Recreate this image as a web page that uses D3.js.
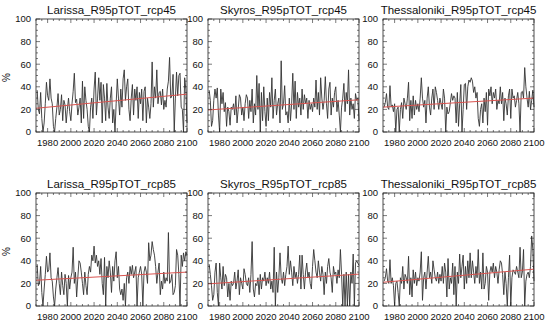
<!DOCTYPE html>
<html>
<head>
<meta charset="utf-8">
<script src="https://d3js.org/d3.v7.min.js"></script>
<style>
  body { margin: 0; background: #fff; }
  text { font-family: "Liberation Sans", Arial, Helvetica, sans-serif; fill: #111; }
</style>
</head>
<body>
<div id="chart"></div>
<script>
// yearly values, 1971-2100
var years = d3.range(1971, 2101);

var titles = ["Larissa_R95pTOT_rcp45", "Skyros_R95pTOT_rcp45", "Thessaloniki_R95pTOT_rcp45",
              "Larissa_R95pTOT_rcp85", "Skyros_R95pTOT_rcp85", "Thessaloniki_R95pTOT_rcp85"];

var larissa45 = [37,20,16,35,12,0,8,25,44,32, 28,47,30,25,5,0,12,22,34,15,
  20,33,10,28,24,8,20,30,18,10, 25,36,52,26,29,15,22,30,8,45,
  12,40,28,20,5,0,22,30,12,38, 53,15,30,48,28,44,8,42,30,10,
  43,22,12,30,40,8,20,0,25,47, 30,15,38,22,47,55,28,40,47,20,
  10,30,42,15,38,28,40,12,35,25, 38,10,36,40,8,30,22,12,25,62,
  22,40,30,55,25,35,36,24,38,20, 28,22,38,45,66,30,32,51,0,30,
  53,32,50,52,22,20,0,48,38,8];

var skyros45 = [37,28,5,10,28,38,30,39,15,0, 38,25,35,18,26,5,22,18,6,22,
  20,25,15,32,8,20,33,30,15,22, 10,25,33,30,12,28,18,38,8,25,
  15,50,20,43,0,35,10,40,18,5, 30,10,35,22,48,12,28,38,15,25,
  30,8,63,20,25,41,15,18,8,30, 10,25,52,20,45,12,35,22,30,15,
  38,20,33,25,30,12,28,20,25,18, 30,22,46,20,35,15,48,30,20,28,
  49,25,12,38,44,15,30,22,35,40, 18,28,15,0,22,30,43,18,35,25,
  55,15,30,20,25,12,34,28,30,10];

var thess45 = [22,26,34,22,20,41,22,24,18,25, 0,20,22,0,20,26,12,30,25,20,
  30,44,10,28,12,32,15,28,20,25, 18,30,48,30,22,28,8,30,40,22,
  15,30,38,20,40,35,28,20,30,25, 20,38,30,0,22,16,18,26,34,28,
  32,30,8,35,5,25,42,0,20,42, 43,20,40,46,44,48,45,35,40,30,
  35,12,5,20,25,8,30,18,35,6, 38,32,40,25,35,30,38,20,28,25,
  40,25,35,10,30,25,15,32,38,12, 38,30,32,22,28,35,25,0,35,36,
  30,57,40,30,22,36,20,28,37,22];

var larissa85 = [37,18,20,35,12,0,15,28,44,30, 32,47,25,22,8,0,15,25,34,20,
  10,30,18,10,28,20,0,27,15,25, 30,52,20,30,8,25,40,38,30,20,
  10,30,18,10,28,35,30,45,40,53, 38,45,35,40,28,42,20,10,43,0,
  35,25,40,30,12,35,22,40,48,25, 35,15,10,15,5,20,0,25,30,20,
  35,28,36,25,30,35,0,25,30,35, 28,0,30,35,30,20,56,40,45,57,
  50,45,35,20,30,38,10,22,15,30, 20,25,22,65,20,22,28,10,12,18,
  50,45,28,0,45,35,47,40,48,45];

var skyros85 = [37,28,18,5,10,30,38,12,0,38, 25,15,35,18,28,25,8,20,5,22,
  18,20,30,15,22,32,10,25,20,15, 33,28,20,18,25,12,28,57,15,8,
  20,18,25,10,28,15,25,22,30,18, 25,20,30,15,22,12,52,0,30,12,
  25,47,25,20,30,18,28,35,53,28, 40,30,18,35,25,30,20,28,45,15,
  45,28,15,30,38,25,30,20,15,35, 50,40,30,25,40,30,22,35,28,10,
  30,20,35,42,30,25,12,35,28,30, 20,32,25,50,28,0,28,0,30,0,
  28,0,30,20,46,0,38,40,38,36];

var thess85 = [22,25,33,22,20,41,20,25,18,0, 20,22,12,0,25,20,35,15,28,25,
  20,44,10,25,8,32,20,30,18,25, 22,30,48,5,25,30,15,30,44,25,
  30,20,40,32,25,22,30,20,28,22, 35,20,38,30,8,42,15,25,20,38,
  10,35,0,30,20,46,25,35,45,15, 35,20,40,25,47,25,40,30,20,35,
  25,50,20,30,15,47,15,20,35,30, 5,30,35,30,38,25,35,30,20,32,
  40,38,28,10,30,20,0,25,45,0, 25,32,30,28,35,30,25,52,25,30,
  50,0,22,28,30,25,35,62,50,22];

var series = [larissa45, skyros45, thess45, larissa85, skyros85, thess85];

// linear trend read at the frame edges (1970 and 2100)
var trendStart = [21, 19.5, 22, 22.8, 19.6, 21];
var trendEnd = [33.5, 28.5, 30, 30, 28.2, 32.6];

var xTicks = [1980, 2000, 2020, 2040, 2060, 2080, 2100];
var yTicks = [0, 20, 40, 60, 80, 100];

var width = 550, height = 326;
var colLeft = [36, 208, 383];
var rowTop = [19, 193];
var plotW = 151, plotH = 113;

var svg = d3.select("#chart").append("svg")
  .attr("width", width)
  .attr("height", height);

series.forEach(function (vals, i) {
  var col = i % 3, row = Math.floor(i / 3);
  var g = svg.append("g").attr("transform", "translate(" + colLeft[col] + "," + rowTop[row] + ")");

  var x = d3.scaleLinear().domain([1970, 2100]).range([0, plotW]);
  var y = d3.scaleLinear().domain([0, 100]).range([plotH, 0]);

  // data line
  var line = d3.line()
    .x(function (d, j) { return x(years[j]); })
    .y(function (d) { return y(d); });

  g.append("path")
    .datum(vals)
    .attr("d", line)
    .attr("fill", "none")
    .attr("stroke", "#333")
    .attr("stroke-width", 0.9);

  // trend
  g.append("line")
    .attr("x1", x(1970)).attr("y1", y(trendStart[i]))
    .attr("x2", x(2100)).attr("y2", y(trendEnd[i]))
    .attr("stroke", "#d9534f")
    .attr("stroke-width", 1);

  // frame
  g.append("rect")
    .attr("x", 0).attr("y", 0)
    .attr("width", plotW).attr("height", plotH)
    .attr("fill", "none")
    .attr("stroke", "#222")
    .attr("stroke-width", 0.8);

  // ticks inward, all four sides
  var xMinor = d3.range(1970, 2101, 5);
  var yMinor = d3.range(0, 101, 5);
  xMinor.forEach(function (t) {
    var len = (t % 20 === 0) ? 4 : 2;
    g.append("line").attr("x1", x(t)).attr("x2", x(t)).attr("y1", plotH).attr("y2", plotH - len)
      .attr("stroke", "#222").attr("stroke-width", 0.6);
    g.append("line").attr("x1", x(t)).attr("x2", x(t)).attr("y1", 0).attr("y2", len)
      .attr("stroke", "#222").attr("stroke-width", 0.6);
  });
  yMinor.forEach(function (t) {
    var len = (t % 20 === 0) ? 4 : 2;
    g.append("line").attr("y1", y(t)).attr("y2", y(t)).attr("x1", 0).attr("x2", len)
      .attr("stroke", "#222").attr("stroke-width", 0.6);
    g.append("line").attr("y1", y(t)).attr("y2", y(t)).attr("x1", plotW).attr("x2", plotW - len)
      .attr("stroke", "#222").attr("stroke-width", 0.6);
  });

  // tick labels
  g.selectAll(".xl").data(xTicks).enter().append("text")
    .attr("x", function (d) { return x(d); })
    .attr("y", plotH + 13.5)
    .attr("text-anchor", "middle")
    .style("font-size", "9.5px")
    .text(function (d) { return d; });

  g.selectAll(".yl").data(yTicks).enter().append("text")
    .attr("x", -5)
    .attr("y", function (d) { return y(d) + 3.4; })
    .attr("text-anchor", "end")
    .style("font-size", "9.5px")
    .text(function (d) { return d; });

  // title
  g.append("text")
    .attr("x", plotW / 2)
    .attr("y", -5)
    .attr("text-anchor", "middle")
    .style("font-size", "11.5px")
    .text(titles[i]);

  // y axis title on the left column only
  if (col === 0) {
    g.append("text")
      .attr("transform", "translate(" + (-26) + "," + (plotH / 2 + 2) + ") rotate(-90)")
      .attr("text-anchor", "middle")
      .style("font-size", "10px")
      .text("%");
  }
});
</script>
</body>
</html>
